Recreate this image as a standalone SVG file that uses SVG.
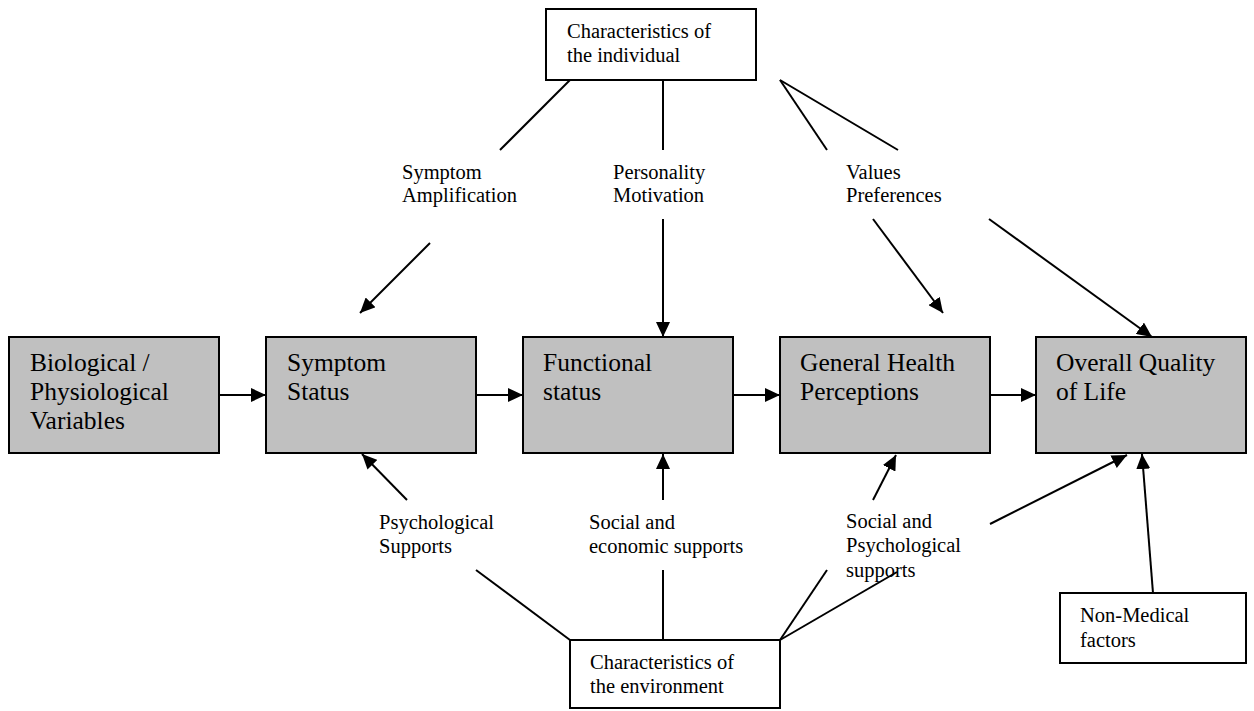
<svg xmlns="http://www.w3.org/2000/svg" width="1254" height="711" viewBox="0 0 1254 711">
<style>
.main{fill:#c0c0c0;stroke:#000;stroke-width:2}
.plain{fill:#fff;stroke:#000;stroke-width:2}
.big{font-family:"Liberation Serif","Times New Roman",serif;font-size:25.5px;fill:#000}
.small{font-family:"Liberation Serif","Times New Roman",serif;font-size:20.5px;fill:#000}
.ln{stroke:#000;stroke-width:2;fill:none}
.ar{stroke:#000;stroke-width:2;fill:none;marker-end:url(#ah)}
</style>
<defs>
<marker id="ah" markerUnits="userSpaceOnUse" markerWidth="16" markerHeight="14" refX="15" refY="7" orient="auto">
<path d="M0,0 L15,7 L0,14 Z" fill="#000"/>
</marker>
</defs>
<rect width="1254" height="711" fill="#fff"/>
<g id="connectors">
<line class="ar" x1="219" y1="395" x2="266" y2="395"/>
<line class="ar" x1="476" y1="395" x2="523" y2="395"/>
<line class="ar" x1="733" y1="395" x2="780" y2="395"/>
<line class="ar" x1="990" y1="395" x2="1036" y2="395"/>
<line class="ln" x1="570" y1="80" x2="500" y2="150"/>
<line class="ln" x1="663" y1="80" x2="663" y2="150"/>
<line class="ln" x1="780" y1="80" x2="827" y2="150"/>
<line class="ln" x1="780" y1="80" x2="898" y2="150"/>
<line class="ar" x1="430" y1="243" x2="360" y2="313"/>
<line class="ar" x1="663" y1="219" x2="663" y2="337"/>
<line class="ar" x1="873" y1="219" x2="943" y2="313"/>
<line class="ar" x1="989" y1="219" x2="1152" y2="337"/>
<line class="ar" x1="407" y1="500" x2="362" y2="454"/>
<line class="ar" x1="663" y1="500" x2="663" y2="454"/>
<line class="ar" x1="873" y1="500" x2="896" y2="455"/>
<line class="ar" x1="990" y1="524" x2="1127" y2="455"/>
<line class="ar" x1="1153" y1="593" x2="1142" y2="454"/>
<line class="ln" x1="476" y1="570" x2="570" y2="640"/>
<line class="ln" x1="663" y1="570" x2="663" y2="640"/>
<line class="ln" x1="827" y1="570" x2="780" y2="640"/>
<line class="ln" x1="780" y1="640" x2="897" y2="572"/>
</g>
<g id="bio">
<rect class="main" x="9" y="337" width="210" height="116"/>
<text class="big" x="30" y="371">Biological /</text>
<text class="big" x="30" y="400">Physiological</text>
<text class="big" x="30" y="429">Variables</text>
</g>
<g id="symptom">
<rect class="main" x="266" y="337" width="210" height="116"/>
<text class="big" x="287" y="371">Symptom</text>
<text class="big" x="287" y="400">Status</text>
</g>
<g id="functional">
<rect class="main" x="523" y="337" width="210" height="116"/>
<text class="big" x="543" y="371">Functional</text>
<text class="big" x="543" y="400">status</text>
</g>
<g id="general">
<rect class="main" x="780" y="337" width="210" height="116"/>
<text class="big" x="800" y="371">General Health</text>
<text class="big" x="800" y="400">Perceptions</text>
</g>
<g id="overall">
<rect class="main" x="1036" y="337" width="210" height="116"/>
<text class="big" x="1056" y="371">Overall Quality</text>
<text class="big" x="1056" y="400">of Life</text>
</g>
<g id="individual">
<rect class="plain" x="546" y="9" width="210" height="71"/>
<text class="small" x="567" y="38">Characteristics of</text>
<text class="small" x="567" y="62">the individual</text>
</g>
<g id="environment">
<rect class="plain" x="570" y="640" width="210" height="68"/>
<text class="small" x="590" y="669">Characteristics of</text>
<text class="small" x="590" y="693">the environment</text>
</g>
<g id="nonmedical">
<rect class="plain" x="1060" y="593" width="186" height="70"/>
<text class="small" x="1080" y="622">Non-Medical</text>
<text class="small" x="1080" y="647">factors</text>
</g>
<g id="labels">
<text class="small" x="402" y="179">Symptom</text>
<text class="small" x="402" y="202">Amplification</text>
<text class="small" x="613" y="179">Personality</text>
<text class="small" x="613" y="202">Motivation</text>
<text class="small" x="846" y="179">Values</text>
<text class="small" x="846" y="202">Preferences</text>
<text class="small" x="379" y="529">Psychological</text>
<text class="small" x="379" y="553">Supports</text>
<text class="small" x="589" y="529">Social and</text>
<text class="small" x="589" y="553">economic supports</text>
<text class="small" x="846" y="528">Social and</text>
<text class="small" x="846" y="552">Psychological</text>
<text class="small" x="846" y="577">supports</text>
</g>
</svg>
